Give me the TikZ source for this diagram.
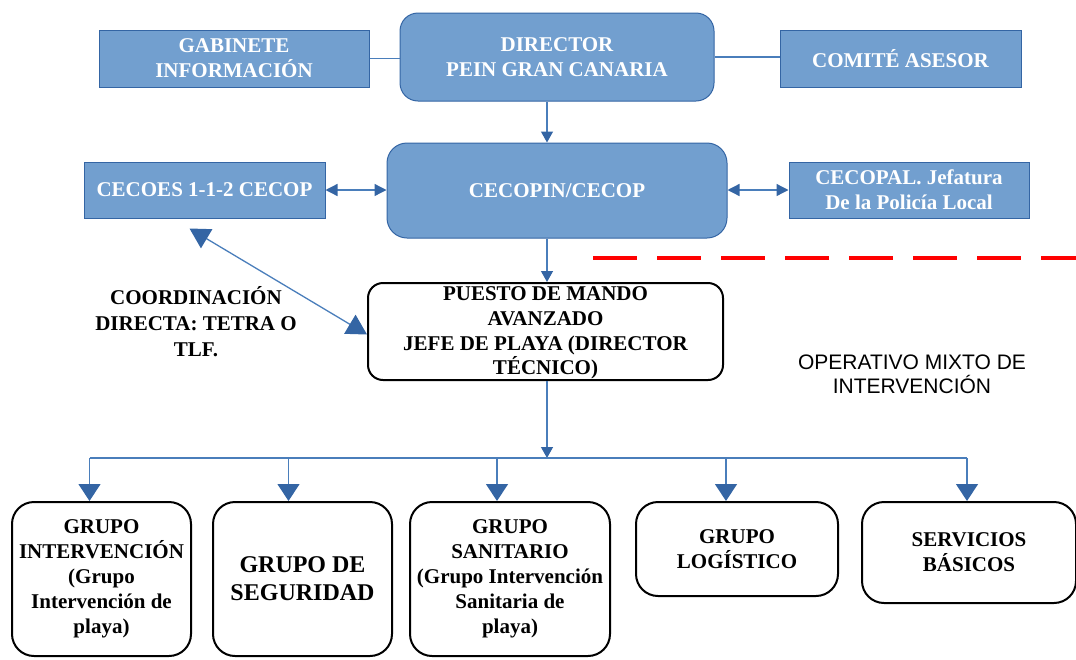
\documentclass[tikz,border=0pt]{standalone}
\usepackage{fontspec}
\setmainfont{Liberation Serif}
\setsansfont{Liberation Sans}
\usetikzlibrary{positioning, arrows.meta, calc}
\definecolor{boxblue}{HTML}{729FCF}
\definecolor{edgeblue}{HTML}{3465A4}
\definecolor{lineblue}{HTML}{4A7EBB}

\begin{document}
\begin{tikzpicture}
        [
            x=1pt, y=-1pt,
            bluebox/.style={draw=edgeblue, line width=1pt, fill=boxblue, text=white, align=center, inner sep=0pt,
                font=\fontsize{21}{25}\selectfont\bfseries},
            whitebox/.style={draw=black, line width=2pt, fill=white, rounded corners=22pt, align=center, inner sep=0pt,
                font=\fontsize{21}{25}\selectfont\bfseries},
            link/.style={draw=lineblue, line width=1.3pt},
            smallhead/.style={-{Triangle[width=12pt,length=11pt,color=edgeblue]}},
            dblhead/.style={{Triangle[width=12pt,length=12pt,color=edgeblue]}-{Triangle[width=12pt,length=12pt,color=edgeblue]}},
            bighead/.style={{Triangle[width=22pt,length=20pt,color=edgeblue]}-{Triangle[width=22pt,length=20pt,color=edgeblue]}},
            drophead/.style={-{Triangle[width=22pt,length=17pt,color=edgeblue]}},
        ]
        \useasboundingbox (0,0) rectangle (1076,659);

        % mando
        \node[bluebox, rounded corners=18pt, minimum width=314pt, minimum height=88pt] (dir) at (557,57)
            {DIRECTOR\\PEIN GRAN CANARIA};
        \node[bluebox, minimum width=270pt, minimum height=57pt] (gab) at (234,58.5) {GABINETE\\INFORMACIÓN};
        \node[bluebox, minimum width=241pt, minimum height=57pt] (com) at (900.5,58.5) {COMITÉ ASESOR};

        % centros de coordinacion
        \node[bluebox, rounded corners=20pt, minimum width=340pt, minimum height=95pt] (cecopin) at (557,190.5)
            {CECOPIN/CECOP};
        \node[bluebox, minimum width=241pt, minimum height=56pt] (cecoes) at (204.5,190) {CECOES 1-1-2 CECOP};
        \node[bluebox, minimum width=240pt, minimum height=56pt] (cecopal) at (909,190)
            {CECOPAL. Jefatura\\De la Policía Local};

        % puesto de mando avanzado
        \node[whitebox, rounded corners=15pt, minimum width=355pt, minimum height=97pt] (pma) at (545.5,331.5) {};
        \node[font=\fontsize{21}{24.7}\selectfont\bfseries, align=center] (pmatxt) at (545.5,333)
            {PUESTO DE MANDO\\AVANZADO\\JEFE DE PLAYA (DIRECTOR\\TÉCNICO)};

        \node[font=\fontsize{21}{26}\selectfont\bfseries, align=center] (coord) at (196,322)
            {COORDINACIÓN\\DIRECTA: TETRA O\\TLF.};
        \node[font=\sffamily\fontsize{21}{24}\selectfont, align=center] (opmix) at (912,374)
            {OPERATIVO MIXTO DE\\INTERVENCIÓN};

        % grupos
        \node[whitebox, minimum width=179pt, minimum height=154pt] (g1) at (101.5,579)
            {GRUPO\\INTERVENCIÓN\\(Grupo\\Intervención de\\playa)};
        \node[whitebox, minimum width=179pt, minimum height=154pt, font=\fontsize{24}{28}\selectfont\bfseries] (g2) at (302.5,579)
            {GRUPO DE\\SEGURIDAD};
        \node[whitebox, minimum width=200pt, minimum height=154pt] (g3) at (510,579)
            {GRUPO\\SANITARIO\\(Grupo Intervención\\Sanitaria de\\playa)};
        \node[whitebox, minimum width=202pt, minimum height=94pt] (g4) at (737,549) {GRUPO\\LOGÍSTICO};
        \node[whitebox, minimum width=214pt, minimum height=101pt] (g5) at (969,552.5) {SERVICIOS\\BÁSICOS};

        \coordinate (bus) at (547,458);

        % conexiones
        \draw[link] (gab.east) -- (gab.east -| dir.west);
        \draw[link] (dir.east) -- (dir.east -| com.west);
        \draw[link, smallhead] (dir.south -| bus) -- (cecopin.north -| bus);
        \draw[link, dblhead] (cecoes.east) -- (cecoes.east -| cecopin.west);
        \draw[link, dblhead] (cecopin.east |- cecopal.west) -- (cecopal.west);
        \draw[link, smallhead] (cecopin.south -| bus) -- (pma.north -| bus);
        \draw[link, bighead] ($(cecoes.south)+(-15,10)$) -- ($(pma.west)+(0,3)$);
        \draw[link, smallhead] (pma.south -| bus) -- (bus);
        \draw[link] ([xshift=-12pt]g1.north |- bus) -- ([xshift=-2pt]g5.north |- bus);
        \foreach \g/\s in {g1/-12, g2/-14, g3/-13, g4/-11, g5/-2}
            \draw[link, drophead] ([xshift=\s pt]\g.north |- bus) -- ([xshift=\s pt]\g.north);

        \draw[red, line width=3.5pt, dash pattern=on 44pt off 20pt] (593,258) -- (1076,258);
    \end{tikzpicture}
\end{document}
